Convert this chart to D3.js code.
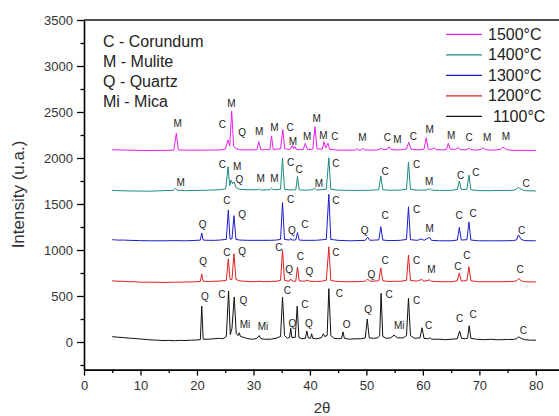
<!DOCTYPE html>
<html><head><meta charset="utf-8">
<script src="https://cdn.jsdelivr.net/npm/d3@7"></script>
<style>body{margin:0;background:#fff}svg{display:block;font-family:Arial,"Liberation Sans",sans-serif}</style>
</head><body><svg id="c" width="559" height="416"></svg>
<script>
const seriesNames = ["1500°C","1400°C","1300°C","1200°C","1100°C"];
const seriesColors = ["#ec1cec","#1a8a82","#1c1ccc","#de2020","#111111"];
const xTicks = [0,10,20,30,40,50,60,70,80];
const yTicks = [0,500,1000,1500,2000,2500,3000,3500];
const phaseKey = ["C - Corundum","M - Mulite","Q - Quartz","Mi - Mica"];

const trace1500 = [[5,2090],[6,2088],[8,2085],[10,2082],[12,2082],[14,2083],[15.9,2085],[16.35,2268],[16.7,2088],[18,2085],[20,2085],[22,2086],[24,2088],[25,2095],[25.5,2195],[25.8,2130],[26.15,2510],[26.5,2130],[26.8,2105],[27.5,2090],[29,2088],[30.6,2090],[30.95,2177],[31.3,2090],[32.9,2092],[33.2,2240],[33.5,2092],[34.8,2100],[35.2,2308],[35.55,2100],[36.5,2092],[36.9,2140],[37.1,2100],[37.35,2125],[37.6,2092],[38.8,2090],[39.2,2160],[39.55,2092],[40.5,2095],[40.9,2340],[41.25,2100],[42.2,2095],[42.5,2177],[42.8,2110],[43.2,2160],[43.5,2095],[45,2085],[46,2085],[48,2085],[48.3,2100],[48.6,2085],[49.1,2088],[49.4,2105],[49.7,2088],[51,2085],[52.3,2090],[52.6,2108],[52.9,2090],[53.7,2095],[54.0,2125],[54.3,2095],[55,2088],[56,2088],[57.1,2098],[57.5,2170],[57.9,2095],[59,2088],[60.2,2095],[60.6,2220],[60.95,2095],[61.6,2095],[62,2110],[62.3,2090],[63.5,2088],[64.2,2095],[64.5,2160],[64.85,2095],[65.8,2095],[66.3,2115],[66.6,2090],[67.8,2090],[68.2,2108],[68.5,2090],[69.5,2085],[70.3,2095],[70.6,2110],[70.9,2100],[71.2,2090],[72.5,2085],[73.8,2095],[74.2,2120],[74.6,2100],[74.9,2090],[76,2083],[78,2083],[80,2082]];
const trace1400 = [[5,1648],[6,1645],[8,1642],[10,1640],[12,1640],[14,1645],[15.8,1648],[16.2,1670],[16.5,1650],[18,1645],[20,1648],[22,1650],[24,1655],[25.1,1665],[25.5,1905],[25.8,1700],[26.05,1760],[26.3,1720],[26.6,1740],[26.9,1680],[27.5,1660],[29,1655],[30.8,1655],[31.05,1665],[31.3,1652],[32.9,1655],[33.2,1673],[33.5,1655],[34.8,1660],[35.15,2000],[35.5,1660],[36.5,1652],[37.5,1655],[37.8,1800],[38.1,1655],[39,1650],[40.4,1655],[40.8,1672],[41.2,1652],[42.9,1660],[43.35,2003],[43.7,1660],[45,1650],[47,1648],[49,1648],[51,1650],[52.2,1655],[52.55,1805],[52.9,1655],[54,1650],[56,1650],[57.1,1660],[57.45,1955],[57.8,1660],[59,1650],[60.7,1652],[60.9,1665],[61.15,1655],[61.35,1664],[61.6,1650],[63,1648],[65,1648],[66.1,1658],[66.45,1750],[66.8,1655],[67.8,1660],[68.15,1815],[68.5,1655],[70,1645],[72,1645],[74,1648],[76,1648],[76.5,1660],[76.9,1680],[77.4,1660],[78,1645],[80,1642]];
const trace1300 = [[5,1112],[6,1108],[7,1108],[8,1105],[10,1102],[12,1100],[14,1100],[16,1102],[18,1100],[20,1105],[20.6,1108],[20.85,1185],[21.1,1108],[22,1105],[23,1105],[24,1108],[25.2,1115],[25.55,1435],[25.85,1120],[26.2,1120],[26.55,1373],[26.9,1115],[27.6,1108],[29,1105],[31,1105],[33,1105],[34,1108],[34.8,1115],[35.15,1515],[35.5,1115],[36.4,1108],[36.6,1125],[36.8,1108],[37.5,1110],[37.8,1190],[38.1,1108],[39,1105],[41,1105],[42.9,1115],[43.35,1605],[43.7,1115],[45,1105],[47,1100],[49.8,1105],[50.2,1140],[50.6,1105],[52.2,1110],[52.55,1253],[52.9,1108],[54,1102],[56,1105],[57.1,1115],[57.45,1470],[57.8,1112],[59,1105],[59.8,1120],[60.2,1105],[61.2,1138],[61.5,1105],[63,1100],[65,1100],[66.1,1108],[66.45,1245],[66.8,1108],[67.8,1112],[68.15,1305],[68.5,1108],[70,1100],[72,1100],[74,1100],[76,1102],[76.6,1110],[76.9,1163],[77.4,1115],[78,1102],[80,1100]];
const trace1200 = [[5,665],[6,660],[7,660],[8,655],[9,655],[10,650],[12,650],[14,648],[16,650],[18,652],[20,655],[20.6,660],[20.85,740],[21.1,660],[22,658],[23,660],[24,662],[25.2,670],[25.55,905],[25.85,680],[26.2,680],[26.55,960],[26.9,680],[27.5,665],[28.5,660],[30,655],[31,660],[32,655],[33,658],[34,660],[34.8,670],[35.15,1000],[35.5,670],[36.3,660],[36.6,685],[36.9,660],[37.5,662],[37.8,815],[38.1,665],[39,660],[39.5,672],[40,660],[41,658],[42,660],[42.9,670],[43.35,1035],[43.7,670],[44.5,660],[46,655],[48,655],[49.8,660],[50.2,685],[50.6,660],[52.2,665],[52.55,805],[52.9,665],[54,658],[55,660],[56,660],[57.1,670],[57.45,945],[57.8,668],[59,662],[59.8,680],[60.2,660],[61.2,675],[61.5,660],[63,655],[65,655],[66.1,665],[66.45,750],[66.8,662],[67.8,668],[68.15,818],[68.5,665],[70,655],[72,655],[74,655],[76,658],[76.6,665],[76.95,690],[77.4,665],[78,655],[80,652]];
const trace1100 = [[5,58],[6,52],[7,48],[8,42],[9,38],[10,32],[11,28],[12,22],[13,20],[14,15],[15,18],[16,14],[17,18],[18,16],[19,20],[20,22],[20.6,25],[20.85,390],[21.1,30],[22,30],[23,35],[24,40],[24.6,35],[25.2,60],[25.6,555],[25.9,80],[26.2,150],[26.6,490],[26.95,90],[27.3,70],[27.5,100],[27.7,60],[28.3,50],[29,35],[30,30],[30.6,40],[31,70],[31.3,35],[32,30],[33,30],[34,40],[34.8,60],[35.15,490],[35.5,70],[36,40],[36.4,50],[36.6,150],[36.8,50],[37.4,50],[37.75,390],[38.05,50],[38.6,35],[39.2,40],[39.45,120],[39.7,45],[40.1,40],[40.3,90],[40.5,40],[41,35],[42,45],[42.4,90],[42.6,60],[43.05,70],[43.35,580],[43.7,70],[44.3,40],[45,35],[45.6,40],[45.85,110],[46.1,40],[47,30],[48,35],[49,35],[49.8,45],[50.15,250],[50.5,45],[51.2,40],[52,45],[52.35,70],[52.6,530],[52.9,60],[53.5,40],[54.3,45],[54.9,75],[55.5,45],[56.5,45],[57.1,70],[57.45,475],[57.8,70],[58.5,40],[59.5,45],[59.85,155],[60.2,40],[61,35],[61.3,45],[61.6,30],[63,30],[64,25],[65,30],[66.1,35],[66.5,120],[66.85,40],[67.5,35],[67.9,40],[68.2,177],[68.5,40],[69.5,30],[71,25],[72,30],[73,25],[74,25],[75,28],[76,28],[76.6,35],[76.9,57],[77.4,40],[78,25],[79,20],[80,20]];
const traces = [trace1500, trace1400, trace1300, trace1200, trace1100];

// peak labels: [2θ, intensity, text]
const labels1500 = [[16.6,2380,"M"],[24.5,2366,"C"],[26.1,2587,"M"],[28.0,2279,"Q"],[31.0,2286,"M"],[33.7,2330,"M"],[36.5,2330,"C"],[37.0,2177,"M"],[39.5,2232,"M"],[41.2,2424,"M"],[42.4,2250,"M"],[44.4,2232,"C"],[49.3,2225,"M"],[53.7,2221,"C"],[55.5,2196,"M"],[58.3,2239,"C"],[61.2,2315,"M"],[65.0,2250,"M"],[68.2,2221,"C"],[71.4,2221,"M"],[74.7,2239,"M"]];
const labels1400 = [[17.1,1736,"M"],[24.5,1931,"C"],[27.1,1913,"M"],[27.5,1761,"Q"],[31.3,1772,"M"],[33.7,1772,"M"],[36.6,1949,"C"],[38.1,1880,"C"],[41.6,1725,"M"],[44.6,1942,"C"],[53.3,1851,"C"],[58.9,1924,"C"],[61.1,1750,"M"],[66.7,1815,"C"],[69.4,1845,"C"],[78.3,1725,"C"]];
const labels1300 = [[21.0,1272,"Q"],[25.3,1533,"C"],[28.0,1388,"Q"],[36.6,1551,"C"],[36.8,1217,"Q"],[39.1,1272,"C"],[44.6,1533,"C"],[49.7,1210,"Q"],[53.3,1373,"C"],[58.9,1442,"C"],[61.2,1236,"M"],[66.4,1373,"C"],[68.9,1399,"C"],[77.5,1210,"C"]];
const labels1200 = [[21.1,880,"Q"],[25.3,975,"C"],[28.0,989,"Q"],[34.5,1022,"C"],[36.3,790,"Q"],[38.3,931,"C"],[39.9,764,"Q"],[44.6,971,"C"],[50.9,735,"Q"],[53.3,891,"C"],[58.9,891,"C"],[61.5,793,"M"],[66.2,826,"C"],[67.8,935,"C"],[77.2,790,"C"]];
const labels1100 = [[21.4,493,"Q"],[24.4,518,"C"],[28.2,449,"Q"],[28.5,192,"Mi"],[31.7,167,"Mi"],[36.0,565,"C"],[36.9,203,"Q"],[39.1,413,"C"],[39.8,203,"Q"],[45.2,522,"C"],[46.5,192,"O"],[50.3,348,"Q"],[54.0,511,"C"],[55.8,177,"Mi"],[58.9,449,"C"],[61.0,177,"C"],[66.5,257,"C"],[68.9,304,"C"],[77.8,123,"C"]];
const allLabels = [labels1500, labels1400, labels1300, labels1200, labels1100];

const svg = d3.select("#c");
const x = d3.scaleLinear().domain([0, 84.1]).range([84, 559]);
const y = d3.scaleLinear().domain([-300, 3500]).range([369.6, 20]);

// traces
const line = d3.line().x(d => x(d[0])).y(d => y(d[1]));
traces.forEach((t, i) => {
  svg.append("path").datum(t).attr("d", line).attr("fill", "none")
    .attr("stroke", seriesColors[i]).attr("stroke-width", 1).attr("stroke-linejoin", "round");
});

// peak labels
allLabels.forEach(arr => {
  svg.append("g").selectAll("text").data(arr).join("text")
    .attr("x", d => x(d[0])).attr("y", d => y(d[1]))
    .attr("text-anchor", "middle").attr("dominant-baseline", "central")
    .attr("font-size", 10).attr("fill", "#222").text(d => d[2]);
});

// axes
const yAxis = d3.axisLeft(y).tickValues(yTicks).tickSize(7).tickSizeOuter(0).tickPadding(4).tickFormat(d3.format("d"));
const gy = svg.append("g").attr("transform", "translate(84,0)").call(yAxis);
gy.selectAll("text").attr("font-size", 13).attr("fill", "#333");
gy.select(".domain").attr("stroke-width", 1.6);
gy.selectAll(".tick line").attr("stroke-width", 1.3);
svg.append("g").attr("transform", "translate(84,0)")
  .call(d3.axisLeft(y).tickValues(d3.range(-250, 3500, 500)).tickSize(3.5).tickFormat(""))
  .call(g => g.select(".domain").remove()).selectAll("line").attr("stroke-width", 1.3);

const xAxis = d3.axisBottom(x).tickValues(xTicks).tickSize(6).tickSizeOuter(0).tickPadding(5).tickFormat(d3.format("d"));
const gx = svg.append("g").attr("transform", `translate(0,${y(-300)})`).call(xAxis);
gx.selectAll("text").attr("font-size", 13).attr("fill", "#333");
gx.select(".domain").attr("stroke-width", 1.6);
gx.selectAll(".tick line").attr("stroke-width", 1.3);
svg.append("g").attr("transform", `translate(0,${y(-300)})`)
  .call(d3.axisBottom(x).tickValues(d3.range(5, 80, 10)).tickSize(3.5).tickFormat(""))
  .call(g => g.select(".domain").remove()).selectAll("line").attr("stroke-width", 1.3);

// top frame
svg.append("line").attr("x1", x(0)).attr("x2", x(84.1)).attr("y1", y(3500)).attr("y2", y(3500))
  .attr("stroke", "#111").attr("stroke-width", 1.6);

// axis titles
svg.append("text").attr("transform", "translate(24,194.5) rotate(-90)")
  .attr("text-anchor", "middle").attr("font-size", 17).attr("fill", "#333").text("Intensity (u.a.)");
svg.append("text").attr("x", 322).attr("y", 413).attr("text-anchor", "middle")
  .attr("font-size", 15).attr("fill", "#333").text("2θ");

// phase key
svg.append("g").selectAll("text").data(phaseKey).join("text")
  .attr("x", 103).attr("y", (d, i) => 47 + i * 20)
  .attr("font-size", 16).attr("fill", "#222").text(d => d);

// legend
const lg = svg.append("g");
seriesNames.forEach((n, i) => {
  const yy = 34.3 + i * 20.5;
  lg.append("line").attr("x1", 446).attr("x2", 482).attr("y1", yy).attr("y2", yy)
    .attr("stroke", seriesColors[i]).attr("stroke-width", 1.2);
  lg.append("text").attr("x", i === 4 ? 493 : 488).attr("y", yy).attr("dominant-baseline", "central")
    .attr("font-size", 16).attr("fill", "#222").text(n);
});
</script></body></html>
